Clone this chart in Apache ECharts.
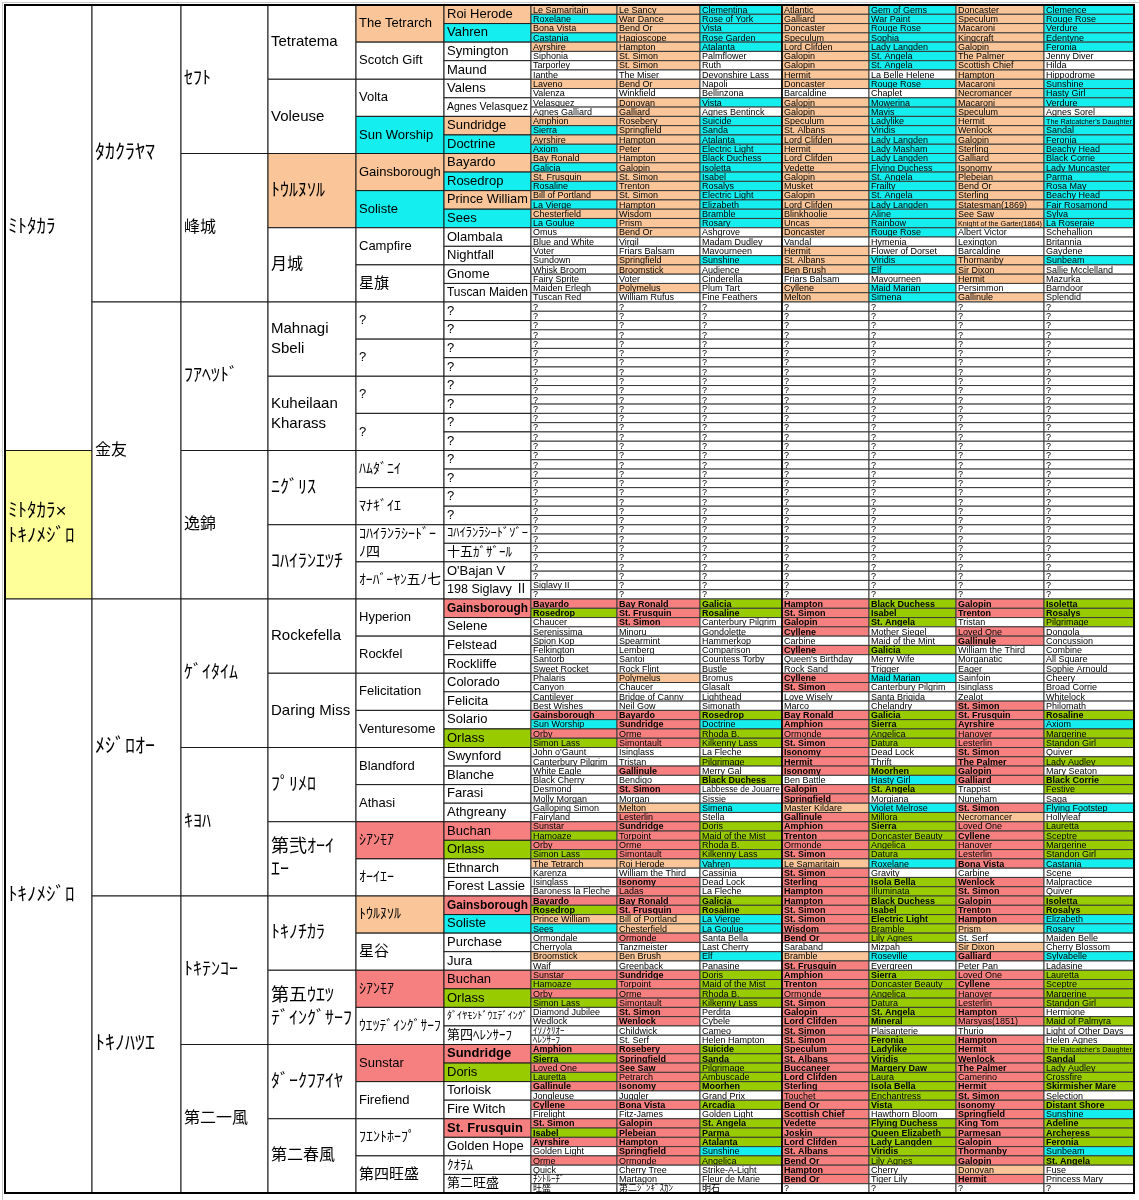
<!DOCTYPE html>
<html>
<head>
<meta charset="utf-8">
<title>ミトタカラ×トキノメジロ 血統表</title>
<script src="https://cdn.jsdelivr.net/npm/echarts@6/dist/echarts.min.js"></script>
<style>
  html, body { margin: 0; padding: 0; background: #fff; }
  #chart { width: 1139px; height: 1200px; }
</style>
</head>
<body>
<div id="chart"></div>
<script>
// 世代ごとの馬名とマーク (o=橙, c=水色, r=赤, R=赤太字, g=緑, G=緑太字, y=黄, w=白)
var gen0Names = ['ﾐﾄﾀｶﾗ', 'ﾐﾄﾀｶﾗ×\nﾄｷﾉﾒｼﾞﾛ', 'ﾄｷﾉﾒｼﾞﾛ'];
var gen0Spans = [48, 16, 64];
var gen0Marks = 'wyw';

var gen1Names = ['ﾀｶｸﾗﾔﾏ', '金友', 'ﾒｼﾞﾛｵｰ', 'ﾄｷﾉﾊﾂｴ'];
var gen1Marks = 'wwww';

var gen2Names = ['ｾﾌﾄ', '峰城', 'ﾌｱﾍﾂﾄﾞ', '逸錦', 'ｹﾞｲﾀｲﾑ', 'ｷﾖﾊ', 'ﾄｷﾃﾝｺｰ', '第二一風'];
var gen2Marks = 'wwwwwwww';

var gen3Names = ['Tetratema', 'Voleuse', 'ﾄｳﾙﾇｿﾙ', '月城', 'Mahnagi\nSbeli', 'Kuheilaan\nKharass',
  'ﾆｸﾞﾘｽ', 'ｺﾊｲﾗﾝｴﾂﾁ', 'Rockefella', 'Daring Miss', 'ﾌﾟﾘﾒﾛ', '第弐ｵｰｲ\nｴｰ',
  'ﾄｷﾉﾁｶﾗ', '第五ｳｴﾂ\nﾃﾞｲﾝｸﾞｻｰﾌ', 'ﾀﾞｰｸﾌｱｲﾔ', '第二春風'];
var gen3Marks = 'wwowwwwwwwwwwwww';

var gen4Names = ['The Tetrarch', 'Scotch Gift', 'Volta', 'Sun Worship', 'Gainsborough', 'Soliste', 'Campfire', '星旗',
  '?', '?', '?', '?', 'ﾊﾑﾀﾞﾆｲ', 'ﾏﾅｷﾞｲｴ', 'ｺﾊｲﾗﾝﾗｼｰﾄﾞｰ\nﾉ四', 'ｵｰﾊﾞｰﾔﾝ五ﾉ七',
  'Hyperion', 'Rockfel', 'Felicitation', 'Venturesome', 'Blandford', 'Athasi', 'ｼｱﾝﾓｱ', 'ｵｰｲｴｰ',
  'ﾄｳﾙﾇｿﾙ', '星谷', 'ｼｱﾝﾓｱ', 'ｳｴﾂﾃﾞｲﾝｸﾞｻｰﾌ', 'Sunstar', 'Firefiend', 'ﾌｴﾝﾄﾎｰﾌﾟ', '第四旺盛'];
var gen4Marks = 'owwcocww' + 'wwwwwwww' + 'wwwwwwrw' + 'owrwrwww';

var gen5Names = ['Roi Herode', 'Vahren', 'Symington', 'Maund', 'Valens', 'Agnes Velasquez', 'Sundridge', 'Doctrine',
  'Bayardo', 'Rosedrop', 'Prince William', 'Sees', 'Olambala', 'Nightfall', 'Gnome', 'Tuscan Maiden',
  '?', '?', '?', '?', '?', '?', '?', '?',
  '?', '?', '?', '?', 'ｺﾊｲﾗﾝﾗｼｰﾄﾞｿﾞｰ', '十五ｶﾞｻﾞｰﾙ', "O'Bajan V", '198 Siglavy Ⅱ',
  'Gainsborough', 'Selene', 'Felstead', 'Rockliffe', 'Colorado', 'Felicita', 'Solario', 'Orlass',
  'Swynford', 'Blanche', 'Farasi', 'Athgreany', 'Buchan', 'Orlass', 'Ethnarch', 'Forest Lassie',
  'Gainsborough', 'Soliste', 'Purchase', 'Jura', 'Buchan', 'Orlass', 'ﾀﾞｲﾔﾓﾝﾄﾞｳｴﾃﾞｲﾝｸﾞ', '第四ﾍﾚﾝｻｰﾌ',
  'Sundridge', 'Doris', 'Torloisk', 'Fire Witch', 'St. Frusquin', 'Golden Hope', 'ｸｵﾗﾑ', '第二旺盛'];
var gen5Marks = 'ocwwwwoc' + 'ococwwww' + 'wwwwwwww' + 'wwwwwwww' +
  'Rwwwwwwg' + 'wwwwrgww' + 'Rcwwrgww' + 'RgwwRwww';

// 6代目以降 (1行に7頭)
var farRows = [
  'Le Samaritain|Le Sancy|Clementina|Atlantic|Gem of Gems|Doncaster|Clemence',
  'Roxelane|War Dance|Rose of York|Galliard|War Paint|Speculum|Rouge Rose',
  'Bona Vista|Bend Or|Vista|Doncaster|Rouge Rose|Macaroni|Verdure',
  'Castania|Hagioscope|Rose Garden|Speculum|Sophia|Kingcraft|Edentyne',
  'Ayrshire|Hampton|Atalanta|Lord Clifden|Lady Langden|Galopin|Feronia',
  'Siphonia|St. Simon|Palmflower|Galopin|St. Angela|The Palmer|Jenny Diver',
  'Tarporley|St. Simon|Ruth|Galopin|St. Angela|Scottish Chief|Hilda',
  'Ianthe|The Miser|Devonshire Lass|Hermit|La Belle Helene|Hampton|Hippodrome',
  'Laveno|Bend Or|Napoli|Doncaster|Rouge Rose|Macaroni|Sunshine',
  'Valenza|Winkfield|Bellinzona|Barcaldine|Chaplet|Necromancer|Hasty Girl',
  'Velasquez|Donovan|Vista|Galopin|Mowerina|Macaroni|Verdure',
  'Agnes Galliard|Galliard|Agnes Bentinck|Galopin|Mavis|Speculum|Agnes Sorel',
  "Amphion|Rosebery|Suicide|Speculum|Ladylike|Hermit|The Ratcatcher's Daughter",
  'Sierra|Springfield|Sanda|St. Albans|Viridis|Wenlock|Sandal',
  'Ayrshire|Hampton|Atalanta|Lord Clifden|Lady Langden|Galopin|Feronia',
  'Axiom|Peter|Electric Light|Hermit|Lady Masham|Sterling|Beachy Head',
  'Bay Ronald|Hampton|Black Duchess|Lord Clifden|Lady Langden|Galliard|Black Corrie',
  'Galicia|Galopin|Isoletta|Vedette|Flying Duchess|Isonomy|Lady Muncaster',
  'St. Frusquin|St. Simon|Isabel|Galopin|St. Angela|Plebeian|Parma',
  'Rosaline|Trenton|Rosalys|Musket|Frailty|Bend Or|Rosa May',
  'Bill of Portland|St. Simon|Electric Light|Galopin|St. Angela|Sterling|Beachy Head',
  'La Vierge|Hampton|Elizabeth|Lord Clifden|Lady Langden|Statesman(1869)|Fair Rosamond',
  'Chesterfield|Wisdom|Bramble|Blinkhoolie|Aline|See Saw|Sylva',
  'La Goulue|Prism|Rosary|Uncas|Rainbow|Knight of the Garter(1864)|La Roseraie',
  'Omus|Bend Or|Ashgrove|Doncaster|Rouge Rose|Albert Victor|Schehallion',
  'Blue and White|Virgil|Madam Dudley|Vandal|Hymenia|Lexington|Britannia',
  'Voter|Friars Balsam|Mavourneen|Hermit|Flower of Dorset|Barcaldine|Gaydene',
  'Sundown|Springfield|Sunshine|St. Albans|Viridis|Thormanby|Sunbeam',
  'Whisk Broom|Broomstick|Audience|Ben Brush|Elf|Sir Dixon|Sallie Mcclelland',
  'Fairy Sprite|Voter|Cinderella|Friars Balsam|Mavourneen|Hermit|Mazurka',
  'Maiden Erlegh|Polymelus|Plum Tart|Cyllene|Maid Marian|Persimmon|Barndoor',
  'Tuscan Red|William Rufus|Fine Feathers|Melton|Simena|Gallinule|Splendid',
  '?|?|?|?|?|?|?', '?|?|?|?|?|?|?', '?|?|?|?|?|?|?', '?|?|?|?|?|?|?',
  '?|?|?|?|?|?|?', '?|?|?|?|?|?|?', '?|?|?|?|?|?|?', '?|?|?|?|?|?|?',
  '?|?|?|?|?|?|?', '?|?|?|?|?|?|?', '?|?|?|?|?|?|?', '?|?|?|?|?|?|?',
  '?|?|?|?|?|?|?', '?|?|?|?|?|?|?', '?|?|?|?|?|?|?', '?|?|?|?|?|?|?',
  '?|?|?|?|?|?|?', '?|?|?|?|?|?|?', '?|?|?|?|?|?|?', '?|?|?|?|?|?|?',
  '?|?|?|?|?|?|?', '?|?|?|?|?|?|?', '?|?|?|?|?|?|?', '?|?|?|?|?|?|?',
  '?|?|?|?|?|?|?', '?|?|?|?|?|?|?', '?|?|?|?|?|?|?', '?|?|?|?|?|?|?',
  '?|?|?|?|?|?|?', '?|?|?|?|?|?|?',
  'Siglavy II|?|?|?|?|?|?',
  '?|?|?|?|?|?|?',
  'Bayardo|Bay Ronald|Galicia|Hampton|Black Duchess|Galopin|Isoletta',
  'Rosedrop|St. Frusquin|Rosaline|St. Simon|Isabel|Trenton|Rosalys',
  'Chaucer|St. Simon|Canterbury Pilgrim|Galopin|St. Angela|Tristan|Pilgrimage',
  'Serenissima|Minoru|Gondolette|Cyllene|Mother Siegel|Loved One|Dongola',
  'Spion Kop|Spearmint|Hammerkop|Carbine|Maid of the Mint|Gallinule|Concussion',
  'Felkington|Lemberg|Comparison|Cyllene|Galicia|William the Third|Combine',
  "Santorb|Santoi|Countess Torby|Queen's Birthday|Merry Wife|Morganatic|All Square",
  'Sweet Rocket|Rock Flint|Bustle|Rock Sand|Trigger|Eager|Sophie Arnould',
  'Phalaris|Polymelus|Bromus|Cyllene|Maid Marian|Sainfoin|Cheery',
  'Canyon|Chaucer|Glasalt|St. Simon|Canterbury Pilgrim|Isinglass|Broad Corrie',
  'Cantilever|Bridge of Canny|Lighthead|Love Wisely|Santa Brigida|Zealot|Whitelock',
  'Best Wishes|Neil Gow|Simonath|Marco|Chelandry|St. Simon|Philomath',
  'Gainsborough|Bayardo|Rosedrop|Bay Ronald|Galicia|St. Frusquin|Rosaline',
  'Sun Worship|Sundridge|Doctrine|Amphion|Sierra|Ayrshire|Axiom',
  'Orby|Orme|Rhoda B.|Ormonde|Angelica|Hanover|Margerine',
  'Simon Lass|Simontault|Kilkenny Lass|St. Simon|Datura|Lesterlin|Standon Girl',
  "John o'Gaunt|Isinglass|La Fleche|Isonomy|Dead Lock|St. Simon|Quiver",
  'Canterbury Pilgrim|Tristan|Pilgrimage|Hermit|Thrift|The Palmer|Lady Audley',
  'White Eagle|Gallinule|Merry Gal|Isonomy|Moorhen|Galopin|Mary Seaton',
  'Black Cherry|Bendigo|Black Duchess|Ben Battle|Hasty Girl|Galliard|Black Corrie',
  'Desmond|St. Simon|Labbesse de Jouarre|Galopin|St. Angela|Trappist|Festive',
  'Molly Morgan|Morgan|Sissie|Springfield|Morgiana|Nuneham|Saga',
  'Galloping Simon|Melton|Simena|Master Kildare|Violet Melrose|St. Simon|Flying Footstep',
  'Fairyland|Lesterlin|Stella|Gallinule|Millora|Necromancer|Hollyleaf',
  'Sunstar|Sundridge|Doris|Amphion|Sierra|Loved One|Lauretta',
  'Hamoaze|Torpoint|Maid of the Mist|Trenton|Doncaster Beauty|Cyllene|Sceptre',
  'Orby|Orme|Rhoda B.|Ormonde|Angelica|Hanover|Margerine',
  'Simon Lass|Simontault|Kilkenny Lass|St. Simon|Datura|Lesterlin|Standon Girl',
  'The Tetrarch|Roi Herode|Vahren|Le Samaritain|Roxelane|Bona Vista|Castania',
  'Karenza|William the Third|Cassinia|St. Simon|Gravity|Carbine|Scene',
  'Isinglass|Isonomy|Dead Lock|Sterling|Isola Bella|Wenlock|Malpractice',
  'Baroness la Fleche|Ladas|La Fleche|Hampton|Illuminata|St. Simon|Quiver',
  'Bayardo|Bay Ronald|Galicia|Hampton|Black Duchess|Galopin|Isoletta',
  'Rosedrop|St. Frusquin|Rosaline|St. Simon|Isabel|Trenton|Rosalys',
  'Prince William|Bill of Portland|La Vierge|St. Simon|Electric Light|Hampton|Elizabeth',
  'Sees|Chesterfield|La Goulue|Wisdom|Bramble|Prism|Rosary',
  'Ormondale|Ormonde|Santa Bella|Bend Or|Lily Agnes|St. Serf|Maiden Belle',
  'Cherryola|Tanzmeister|Last Cherry|Saraband|Mizpah|Sir Dixon|Cherry Blossom',
  'Broomstick|Ben Brush|Elf|Bramble|Roseville|Galliard|Sylvabelle',
  'Waif|Greenback|Panasine|St. Frusquin|Evergreen|Peter Pan|Ladasine',
  'Sunstar|Sundridge|Doris|Amphion|Sierra|Loved One|Lauretta',
  'Hamoaze|Torpoint|Maid of the Mist|Trenton|Doncaster Beauty|Cyllene|Sceptre',
  'Orby|Orme|Rhoda B.|Ormonde|Angelica|Hanover|Margerine',
  'Simon Lass|Simontault|Kilkenny Lass|St. Simon|Datura|Lesterlin|Standon Girl',
  'Diamond Jubilee|St. Simon|Perdita|Galopin|St. Angela|Hampton|Hermione',
  'Wedlock|Wenlock|Cybele|Lord Clifden|Mineral|Marsyas(1851)|Maid of Palmyra',
  'ｲｿﾉｸﾘｵｰ|Childwick|Cameo|St. Simon|Plaisanterie|Thurio|Light of Other Days',
  'ﾍﾚﾝｻｰﾌ|St. Serf|Helen Hampton|St. Simon|Feronia|Hampton|Helen Agnes',
  "Amphion|Rosebery|Suicide|Speculum|Ladylike|Hermit|The Ratcatcher's Daughter",
  'Sierra|Springfield|Sanda|St. Albans|Viridis|Wenlock|Sandal',
  'Loved One|See Saw|Pilgrimage|Buccaneer|Margery Daw|The Palmer|Lady Audley',
  'Lauretta|Petrarch|Ambuscade|Lord Clifden|Laura|Camerino|Crossfire',
  'Gallinule|Isonomy|Moorhen|Sterling|Isola Bella|Hermit|Skirmisher Mare',
  'Jongleuse|Juggler|Grand Prix|Touchet|Enchantress|St. Simon|Selection',
  'Cyllene|Bona Vista|Arcadia|Bend Or|Vista|Isonomy|Distant Shore',
  'Firelight|Fitz-James|Golden Light|Scottish Chief|Hawthorn Bloom|Springfield|Sunshine',
  'St. Simon|Galopin|St. Angela|Vedette|Flying Duchess|King Tom|Adeline',
  'Isabel|Plebeian|Parma|Joskin|Queen Elizabeth|Parmesan|Archeress',
  'Ayrshire|Hampton|Atalanta|Lord Clifden|Lady Langden|Galopin|Feronia',
  'Golden Light|Springfield|Sunshine|St. Albans|Viridis|Thormanby|Sunbeam',
  'Orme|Ormonde|Angelica|Bend Or|Lily Agnes|Galopin|St. Angela',
  'Quick|Cherry Tree|Strike-A-Light|Hampton|Cherry|Donovan|Fuse',
  'ﾁﾝﾄﾙｰﾁﾞ|Martagon|Fleur de Marie|Bend Or|Tiger Lily|Hermit|Princess Mary',
  '旺盛|第二ｼﾞﾝｷﾞｽｶﾝ|明石|?|?|?|?'
];

var farMarks = [
  'oocococ', 'cocococ', 'oocococ', 'cocococ', 'oocococ', 'wowocow', 'wowocow', 'wwwowow',
  'oowococ', 'wwwwwoc', 'wocococ', 'wowocow', 'oocococ', 'cocococ', 'oocococ', 'cocococ',
  'oocococ', 'cocococ', 'oocococ', 'cocococ', 'oocococ', 'cocococ', 'oocococ', 'cocococ',
  'wowocww', 'wwwwwww', 'wwwowww', 'wocococ', 'wowocow', 'wwwwwow', 'wowocww', 'wwwocow',
  'wwwwwww', 'wwwwwww', 'wwwwwww', 'wwwwwww', 'wwwwwww', 'wwwwwww', 'wwwwwww', 'wwwwwww',
  'wwwwwww', 'wwwwwww', 'wwwwwww', 'wwwwwww', 'wwwwwww', 'wwwwwww', 'wwwwwww', 'wwwwwww',
  'wwwwwww', 'wwwwwww', 'wwwwwww', 'wwwwwww', 'wwwwwww', 'wwwwwww', 'wwwwwww', 'wwwwwww',
  'wwwwwww', 'wwwwwww', 'wwwwwww', 'wwwwwww', 'wwwwwww', 'wwwwwww', 'wwwwwww', 'wwwwwww',
  'RRGRGRG', 'GRGRGRG', 'wRwRGwg', 'wwwRwrw', 'wwwwwRw', 'wwwRGww', 'wwwwwww', 'wwwwwww',
  'wowRcww', 'wwwRwww', 'wwwwwww', 'wwwwwRw', 'RRGRGRG', 'cRcRGRc', 'rrgrgrg', 'grgRgrg',
  'wwwRwRw', 'wwgRwRg', 'wRwRGRw', 'wwGwcRG', 'wRwRGwg', 'wwwRwww', 'wococRc', 'wrwRgow',
  'rRgRGrg', 'grgRgRg', 'rrgrgrg', 'grgRgrg', 'oococRc', 'wwwRwww', 'wRwRGRw', 'wrwRgRw',
  'RRGRGRG', 'GRGRGRG', 'oocRGRc', 'cocRgoc', 'wrwRgww', 'wwwwwow', 'oococRc', 'wwwRwww',
  'rRgRGrg', 'grgRgRg', 'rrgrgrg', 'grgRgrg', 'wRwRGRw', 'wRwRGrg', 'wwwRwww', 'wwwRGRw',
  'RRGRGRg', 'GRGRGRG', 'rRgRGRg', 'grgRgrg', 'RRGRGRG', 'wwwrgRw', 'RRGRGRG', 'wwwRwRc',
  'RRGRGRG', 'GRGRGRG', 'RRGRGRG', 'wRcRGRc', 'rrgRgRG', 'wwwRwow', 'wwwRwRw', 'wwwwwww'
];

// ---- 表示設定 ----
var FONT = '"Liberation Sans", "Noto Sans CJK JP", sans-serif';
var FILL = { w: '#ffffff', o: '#fac598', c: '#14eeee', r: '#f6807f', g: '#99cc00', y: '#ffff99' };
// 列の境界 (x軸の単位)
var colEdges = [0, 87, 176, 263, 351, 439, 526, 612, 695, 777, 864, 951, 1039, 1129];
var latinSize = [16, 16, 16, 15, 13, 13, 9];
var kanaSize = [19, 20, 18, 18, 14, 13, 9];
var kanjiSize = [16, 16, 16, 16, 15, 13, 9];
var KANA = /[\u3040-\u30ff\uff66-\uff9f]/;
var KANJI = /[\u4e00-\u9fff]/;

var cells = [];
function addGeneration(col, names, marks, spans) {
  var row = 0;
  names.forEach(function (name, i) {
    var span = spans ? spans[i] : 128 / names.length;
    cells.push({ col: col, row: row, span: span, name: name, mark: marks.charAt(i) });
    row += span;
  });
}
addGeneration(0, gen0Names, gen0Marks, gen0Spans);
addGeneration(1, gen1Names, gen1Marks);
addGeneration(2, gen2Names, gen2Marks);
addGeneration(3, gen3Names, gen3Marks);
addGeneration(4, gen4Names, gen4Marks);
addGeneration(5, gen5Names, gen5Marks);
farRows.forEach(function (line, r) {
  line.split('|').forEach(function (name, k) {
    cells.push({ col: 6 + k, row: r, span: 1, name: name, mark: farMarks[r].charAt(k) });
  });
});

var measureCtx = document.createElement('canvas').getContext('2d');
function fitSize(lines, size, weight, maxW) {
  measureCtx.font = weight + ' ' + size + 'px ' + FONT;
  var w = 0;
  lines.forEach(function (l) { w = Math.max(w, measureCtx.measureText(l).width); });
  return w > maxW ? size * maxW / w : size;
}

function renderCell(params, api) {
  var c = cells[params.dataIndex];
  var p0 = api.coord([colEdges[c.col], c.row]);
  var p1 = api.coord([colEdges[c.col + 1], c.row + c.span]);
  var w = p1[0] - p0[0];
  var h = p1[1] - p0[1];
  var far = c.col >= 6;
  var k = Math.min(c.col, 6);
  var bold = c.mark === 'R' || c.mark === 'G';
  var weight = bold ? 'bold' : 'normal';
  var base = KANA.test(c.name) ? kanaSize[k] : KANJI.test(c.name) ? kanjiSize[k] : latinSize[k];
  var lines = c.name.split('\n');
  var pad = far ? 2 : 3;
  var size = fitSize(lines, base, weight, w - pad * 2);
  return {
    type: 'group',
    children: [{
      type: 'rect',
      shape: { x: p0[0], y: p0[1], width: w, height: h },
      style: { fill: FILL[c.mark.toLowerCase()], stroke: far ? '#3a3a3a' : '#1a1a1a', lineWidth: 1 }
    }, {
      type: 'text',
      style: {
        text: c.name,
        x: p0[0] + pad,
        y: p0[1] + h / 2 + (far ? 0.6 : 0),
        align: 'left',
        verticalAlign: 'middle',
        fontFamily: FONT,
        fontSize: size,
        fontWeight: weight,
        lineHeight: Math.round(size * 1.3),
        fill: '#000'
      }
    }]
  };
}

function renderFrame(params, api) {
  var a = api.coord([colEdges[0], 0]);
  var b = api.coord([colEdges[colEdges.length - 1], 128]);
  var m = api.coord([colEdges[9], 0]);
  return {
    type: 'group',
    children: [{
      type: 'line',
      shape: { x1: m[0], y1: a[1], x2: m[0], y2: b[1] },
      style: { stroke: '#000', lineWidth: 1.6 }
    }, {
      type: 'rect',
      shape: { x: a[0], y: a[1], width: b[0] - a[0], height: b[1] - a[1] },
      style: { fill: 'none', stroke: '#000', lineWidth: 2 }
    }]
  };
}

var chart = echarts.init(document.getElementById('chart'), null, { renderer: 'canvas' });
chart.setOption({
  animation: false,
  backgroundColor: '#fff',
  grid: { left: 5, right: 5, top: 5, bottom: 7 },
  xAxis: { type: 'value', min: 0, max: colEdges[colEdges.length - 1], show: false },
  yAxis: { type: 'value', min: 0, max: 128, inverse: true, show: false },
  graphic: [{
    type: 'rect', left: 0, top: 0, silent: true,
    shape: { width: 1138, height: 1199 },
    style: { fill: 'none', stroke: '#c8c8c8', lineWidth: 1 }
  }],
  series: [{
    type: 'custom',
    silent: true,
    clip: false,
    renderItem: renderCell,
    data: cells.map(function (c) { return [c.col, c.row, c.span]; })
  }, {
    type: 'custom',
    silent: true,
    clip: false,
    renderItem: renderFrame,
    data: [[0, 0]]
  }]
});
</script>
</body>
</html>
